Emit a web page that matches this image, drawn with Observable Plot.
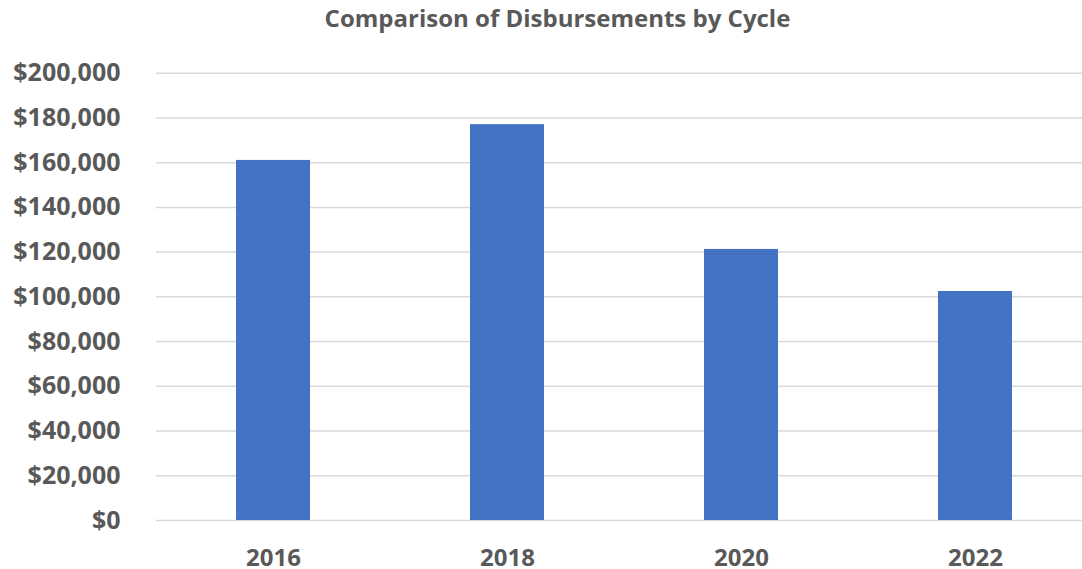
<!DOCTYPE html>
<html>
<head>
<meta charset="utf-8">
<script src="https://cdn.jsdelivr.net/npm/d3@7"></script>
<script src="https://cdn.jsdelivr.net/npm/@observablehq/plot@0.6"></script>
<style>
  html, body { margin: 0; padding: 0; background: #ffffff; }
  #title {
    width: 1082px; height: 44px; line-height: 35px;
    box-sizing: border-box; padding-left: 33px;
    text-align: center; font-family: "Open Sans", sans-serif;
    font-weight: bold; font-size: 24px; color: #595959;
    white-space: nowrap;
  }
  #chart svg { display: block; }
</style>
</head>
<body>
<div id="title">Comparison of Disbursements by Cycle</div>
<div id="chart"></div>
<script>
const cycles = ["2016", "2018", "2020", "2022"];
const disbursements = [161000, 177000, 121200, 102400];
const yTicks = [0, 20000, 40000, 60000, 80000, 100000, 120000, 140000, 160000, 180000, 200000];

const data = cycles.map((c, i) => ({cycle: c, value: disbursements[i]}));
const fmt = d3.format("$,");

const chart = Plot.plot({
  width: 1082,
  height: 525,
  marginLeft: 156,
  marginRight: 0,
  marginTop: 28.7,
  marginBottom: 49,
  style: {
    fontFamily: "'Open Sans', sans-serif",
    fontSize: "24px",
    fontWeight: "bold",
    color: "#595959",
    background: "#ffffff",
    overflow: "visible"
  },
  x: {domain: cycles, range: [156, 1092], paddingInner: 0.6838, paddingOuter: 0.3419, label: null},
  y: {domain: [0, 200000], label: null},
  marks: [
    Plot.ruleY(yTicks, {stroke: "#d9d9d9", strokeWidth: 1.5}),
    Plot.barY(data, {x: "cycle", y: "value", fill: "#4472C4"}),
    Plot.axisY(yTicks, {tickSize: 0, tickPadding: 36, tickFormat: fmt, label: null, fill: "#595959", fontSize: 25}),
    Plot.axisX({tickSize: 0, tickPadding: 28, label: null, fill: "#595959"})
  ]
});
document.getElementById("chart").appendChild(chart);
</script>
</body>
</html>
